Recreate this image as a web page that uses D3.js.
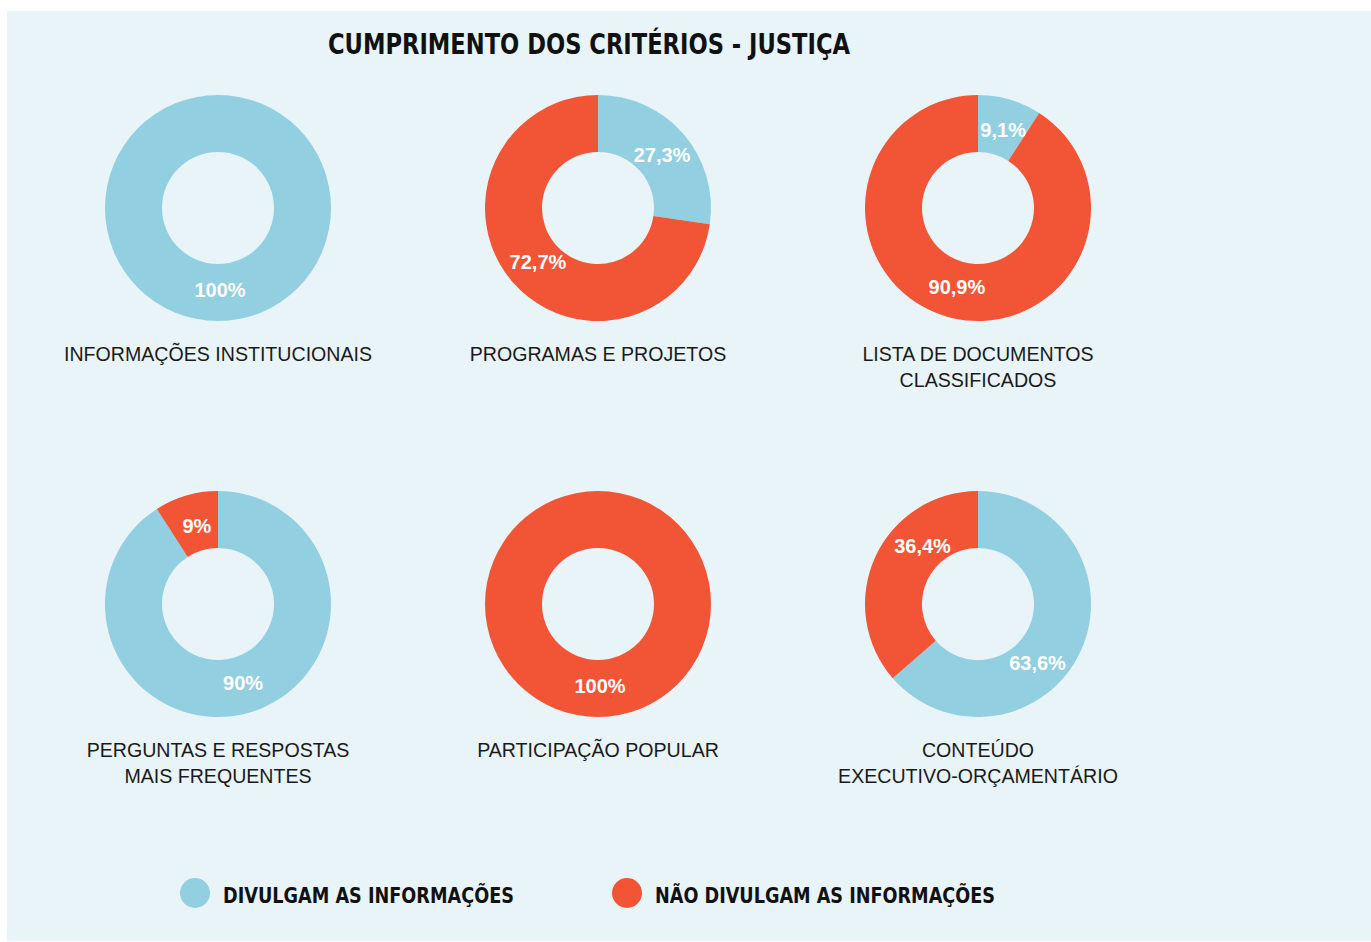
<!DOCTYPE html>
<html><head><meta charset="utf-8">
<script src="https://cdnjs.cloudflare.com/ajax/libs/d3/7.8.5/d3.min.js"></script>
<style>
html,body{margin:0;padding:0;background:#fff;}
svg{display:block;}
</style></head>
<body>
<svg id="chart" width="1371" height="942"></svg>
<script>
// ---- data ----
const title = "CUMPRIMENTO DOS CRITÉRIOS - JUSTIÇA";
const categories = [
  ["INFORMAÇÕES INSTITUCIONAIS"],
  ["PROGRAMAS E PROJETOS"],
  ["LISTA DE DOCUMENTOS", "CLASSIFICADOS"],
  ["PERGUNTAS E RESPOSTAS", "MAIS FREQUENTES"],
  ["PARTICIPAÇÃO POPULAR"],
  ["CONTEÚDO", "EXECUTIVO-ORÇAMENTÁRIO"]
];
const seriesNames = ["DIVULGAM AS INFORMAÇÕES", "NÃO DIVULGAM AS INFORMAÇÕES"];
const divulgam    = [100, 27.3, 9.1, 90, 0, 63.6];
const naoDivulgam = [0, 72.7, 90.9, 9, 100, 36.4];
const valueLabels = [
  ["100%", ""], ["27,3%", "72,7%"], ["9,1%", "90,9%"],
  ["90%", "9%"], ["", "100%"], ["63,6%", "36,4%"]
];

// ---- style / layout ----
const colors = ["#92cfe0", "#f25536"];
const W = 1371, H = 942;
const svg = d3.select("#chart");
const labelRotateDeg = [0, 0, 0, 0, 0, 21];

svg.append("rect").attr("x", 7).attr("y", 11).attr("width", W - 7).attr("height", 930)
  .attr("fill", "#e8f4f8");

const condensed = "'Liberation Sans Narrow','DejaVu Sans Condensed','Liberation Sans',sans-serif";

svg.append("text").attr("x", 589).attr("y", 54)
  .attr("text-anchor", "middle")
  .attr("font-family", condensed).attr("font-weight", "bold")
  .attr("font-size", 28).attr("fill", "#111")
  .attr("textLength", 522).attr("lengthAdjust", "spacingAndGlyphs")
  .text(title);

const col = d3.scalePoint().domain([0, 1, 2]).range([218, 978]);
const row = d3.scalePoint().domain([0, 1]).range([208, 604]);
const rOuter = 113, rInner = 56;

const pie = d3.pie().sort(null).value(d => d.v);
const arc = d3.arc().innerRadius(rInner).outerRadius(rOuter);
const rLabel = 82;

categories.forEach((cat, i) => {
  const cx = col(i % 3), cy = row(Math.floor(i / 3));
  const g = svg.append("g").attr("transform", `translate(${cx},${cy})`);
  const data = [
    {v: divulgam[i], c: colors[0], label: valueLabels[i][0]},
    {v: naoDivulgam[i], c: colors[1], label: valueLabels[i][1]}
  ];
  const arcs = pie(data);
  g.selectAll("path").data(arcs.filter(a => a.data.v > 0)).join("path")
    .attr("d", arc).attr("fill", d => d.data.c);
  g.selectAll("text.val").data(arcs.filter(a => a.data.v > 0 && a.data.label)).join("text")
    .attr("class", "val")
    .attr("transform", d => {
      const a = (d.startAngle + d.endAngle) / 2 + labelRotateDeg[i] * Math.PI / 180;
      return `translate(${rLabel * Math.sin(a) + 2},${-rLabel * Math.cos(a)})`;
    })
    .attr("text-anchor", "middle").attr("dy", "0.36em")
    .attr("font-family", "'Liberation Sans',Arial,sans-serif")
    .attr("font-weight", "bold").attr("font-size", 20).attr("fill", "#fff")
    .text(d => d.data.label);
  const t = g.append("text").attr("text-anchor", "middle")
    .attr("font-family", "'Liberation Sans',Arial,sans-serif")
    .attr("font-size", 19.6).attr("fill", "#1a1a1a");
  cat.forEach((line, j) => {
    t.append("tspan").attr("x", 0).attr("y", 153 + j * 26).text(line);
  });
});

// legend
const legendX = [195, 627];
seriesNames.forEach((name, k) => {
  svg.append("ellipse").attr("cx", legendX[k]).attr("cy", 893).attr("rx", 15).attr("ry", 15)
    .attr("fill", colors[k]);
  svg.append("text").attr("x", legendX[k] + 28).attr("y", 903)
    .attr("font-family", condensed).attr("font-weight", "bold")
    .attr("font-size", 21).attr("fill", "#111")
    .attr("textLength", k === 0 ? 291 : 340).attr("lengthAdjust", "spacingAndGlyphs")
    .text(name);
});
</script>
</body></html>
